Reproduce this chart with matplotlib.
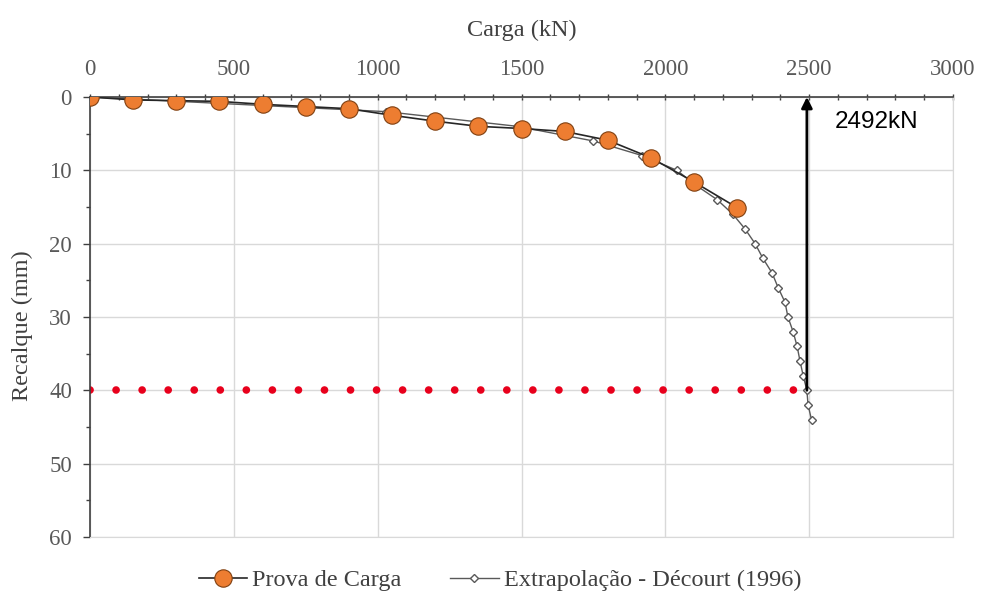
import matplotlib
matplotlib.use("Agg")
import matplotlib.pyplot as plt
from matplotlib.ticker import MultipleLocator

# Prova de carga
carga_prova = [0, 150, 300, 450, 600, 750, 900, 1050, 1200, 1350, 1500, 1650, 1800, 1950, 2100, 2250]
recalque_prova = [0, 0.4, 0.5, 0.6, 1.0, 1.3, 1.6, 2.5, 3.3, 4.0, 4.3, 4.7, 5.9, 8.3, 11.6, 15.1]

# Extrapolação - Décourt (1996)
carga_decourt = [0, 1030, 1485, 1750, 1920, 2040, 2105, 2180, 2235, 2277, 2312, 2339, 2371,
                 2392, 2416, 2426, 2444, 2458, 2468, 2479, 2492, 2496, 2508]
recalque_decourt = [0, 2, 4, 6, 8, 10, 12, 14, 16, 18, 20, 22, 24,
                    26, 28, 30, 32, 34, 36, 38, 40, 42, 44]

carga_ruptura = 2492
recalque_limite = 40

serif = ['Liberation Serif', 'DejaVu Serif']
plt.rcParams['font.family'] = serif

fig = plt.figure(figsize=(9.82, 5.95), dpi=100)
ax = fig.add_axes([0.0917, 0.0975, 0.8788, 0.7395])

ax.plot(carga_decourt, recalque_decourt, color='#595959', lw=1, marker='D', ms=4.5,
        mfc='white', mec='#595959', mew=1, label='Extrapolação - Décourt (1996)', zorder=3)
ax.plot(carga_prova, recalque_prova, color='#262626', lw=1.2, marker='o', ms=12.5,
        mfc='#ED7D31', mec='#7f3f10', mew=0.8, label='Prova de Carga', zorder=4)

# linha pontilhada vermelha em 40 mm
ax.plot([0, carga_ruptura], [recalque_limite, recalque_limite], color='#e8001c', lw=5.5,
        linestyle=(0, (0.01, 3.4)), dash_capstyle='round', zorder=2)

# seta da carga de ruptura
ax.annotate('', xy=(carga_ruptura, 0), xytext=(carga_ruptura, recalque_limite),
            arrowprops=dict(arrowstyle='-|>', color='black', lw=2, mutation_scale=16,
                            shrinkA=0, shrinkB=0), zorder=5)
ax.text(2590, 3.4, f'{carga_ruptura}kN', family=['Liberation Sans', 'DejaVu Sans'],
        fontsize=17.5, va='center', ha='left', color='black')

ax.set_xlim(0, 3000)
ax.set_ylim(60, 0)
ax.xaxis.tick_top()
ax.xaxis.set_label_position('top')
ax.xaxis.set_major_locator(MultipleLocator(500))
ax.xaxis.set_minor_locator(MultipleLocator(100))
ax.yaxis.set_major_locator(MultipleLocator(10))
ax.yaxis.set_minor_locator(MultipleLocator(5))

ax.grid(True, which='major', color='#d9d9d9', lw=1)
ax.set_axisbelow(True)
for s in ['right', 'bottom']:
    ax.spines[s].set_color('#d9d9d9')
for s in ['left', 'top']:
    ax.spines[s].set_color('#404040')
    ax.spines[s].set_linewidth(1.2)

ax.tick_params(axis='x', which='both', direction='inout', length=5, width=1, color='#404040',
               labelsize=16.5, labelcolor='#595959', pad=10)
ax.tick_params(axis='y', which='both', direction='out', length=5, width=1, color='#404040',
               labelsize=16.5, labelcolor='#595959', pad=8)
ax.tick_params(axis='y', which='minor', length=3)

ax.set_xlabel('Carga (kN)', fontsize=17.5, color='#404040', labelpad=16)
ax.set_ylabel('Recalque (mm)', fontsize=17.5, color='#404040')
ax.yaxis.set_label_coords(-0.066, 0.48)

handles, labels = ax.get_legend_handles_labels()
fig.legend(handles[::-1], labels[::-1], loc='center', bbox_to_anchor=(0.509, 0.025),
           ncol=2, frameon=False, fontsize=17.5, handlelength=2.0, columnspacing=2.0,
           handletextpad=0.2, labelcolor='#404040')

fig.savefig('out.png', dpi=100)
